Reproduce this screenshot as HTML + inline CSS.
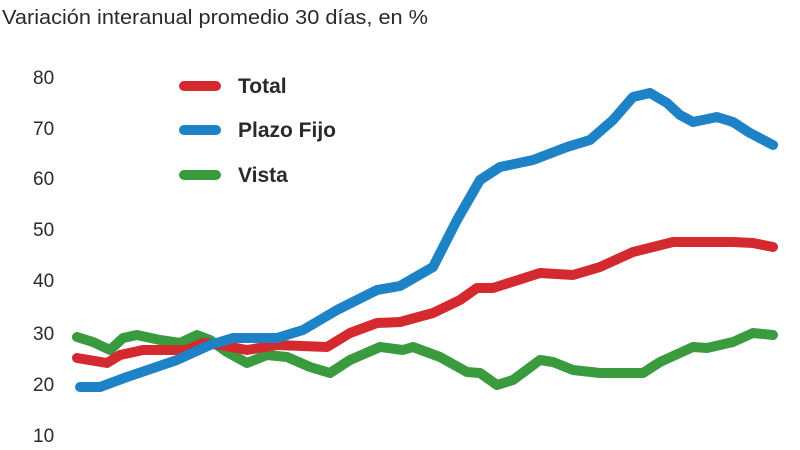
<!DOCTYPE html>
<html><head><meta charset="utf-8"><style>
body{margin:0;background:#fff;width:800px;height:450px;overflow:hidden}
svg{display:block}
.t{font-family:"Liberation Sans",sans-serif;fill:#2a2a2a}
</style></head><body>
<svg width="800" height="450" viewBox="0 0 800 450">
<text class="t" x="2" y="24" font-size="20" textLength="426" lengthAdjust="spacingAndGlyphs">Variación interanual promedio 30 días, en %</text>
<g class="t" font-size="19">
<text x="33" y="84">80</text><text x="33" y="135">70</text><text x="33" y="185">60</text>
<text x="33" y="236">50</text><text x="33" y="287">40</text><text x="33" y="340">30</text>
<text x="33" y="391">20</text><text x="33" y="442">10</text>
</g>
<g stroke-width="10" stroke-linecap="round" fill="none" stroke-linejoin="round">
<line x1="184" y1="86" x2="216" y2="86" stroke="#d42a2f"/>
<line x1="184" y1="130" x2="216" y2="130" stroke="#1e83c6"/>
<line x1="184" y1="175" x2="216" y2="175" stroke="#3a9b3e"/>
<polyline stroke="#3a9b3e" points="77,337 93,342 110,350 123,338 137,335 160,340 180,343 197,335 210,340 227,352 247,363 267,355 287,357 310,367 330,373 350,360 380,347 403,350 413,347 440,357 467,372 480,373 497,385 513,380 540,360 553,362 573,370 600,373 643,373 660,362 693,347 707,348 733,342 753,333 773,335"/>
<polyline stroke="#d42a2f" points="77,358 107,363 120,355 143,350 187,350 203,343 220,345 247,350 277,345 327,347 350,333 377,323 400,322 433,313 460,300 477,288 493,288 540,273 573,275 600,267 633,252 673,242 733,242 753,243 773,247"/>
<polyline stroke="#1e83c6" points="80,387 100,387 127,377 177,360 210,345 233,338 277,338 303,330 337,310 377,290 400,286 433,267 457,220 480,180 500,167 533,160 567,147 590,140 613,120 633,97 650,93 667,103 680,115 693,122 717,117 733,122 750,133 773,145"/>
</g>
<g class="t" font-size="21" font-weight="bold" fill="#1a1a1a">
<text x="238" y="93">Total</text><text x="238" y="137">Plazo Fijo</text><text x="238" y="182">Vista</text>
</g>
</svg>
</body></html>
